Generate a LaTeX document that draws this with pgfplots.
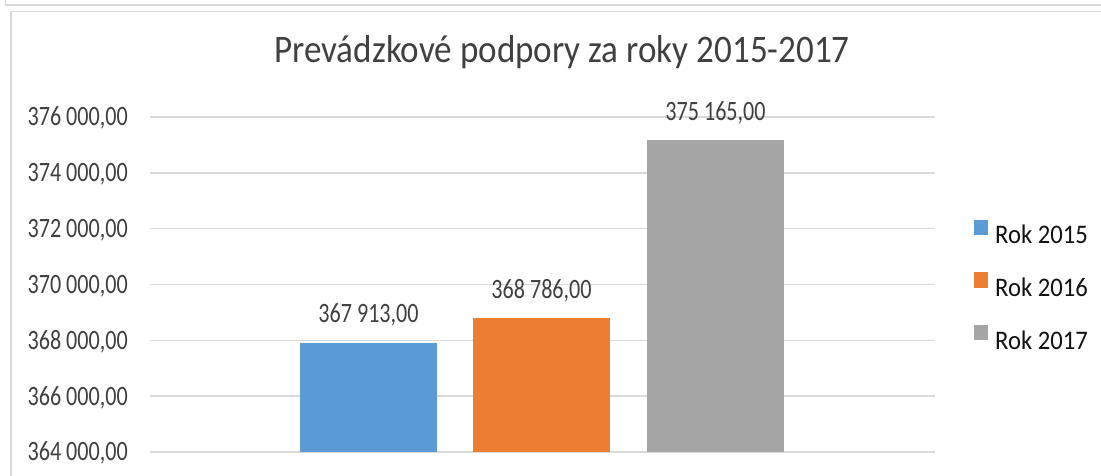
\documentclass[border=0pt]{standalone}
\usepackage{pgfplots}
\pgfplotsset{compat=1.18}
\usepackage{fontspec}
\setmainfont{Carlito}
\newfontfamily\tickfont{Carlito}[FakeStretch=0.79]
\newfontfamily\titlefont{Carlito}[FakeStretch=0.90]
\newfontfamily\legfont{Carlito}[FakeStretch=0.92]
\definecolor{cblue}{HTML}{5B9BD5}
\definecolor{corange}{HTML}{ED7D31}
\definecolor{cgray}{HTML}{A5A5A5}
\definecolor{gridc}{HTML}{D9D9D9}
\definecolor{textc}{HTML}{404040}
\definecolor{legc}{HTML}{111111}
\pgfplotsset{sqleg/.style={legend image code/.code={\fill[##1] (0bp,0bp) rectangle (14bp,15.5bp);}}}
\begin{document}
\begin{tikzpicture}
\useasboundingbox (0,0) rectangle (1101bp,-476bp);
\draw[gridc, line width=1.5bp] (5.5bp,0) -- (5.5bp,-5bp) -- (1101bp,-5bp);
\draw[gridc, line width=1.5bp] (11bp,-476bp) -- (11bp,-11.5bp) -- (1101bp,-11.5bp);
\node[anchor=base, text=textc, font=\titlefont\fontsize{39bp}{39bp}\selectfont, inner sep=0pt] at (562bp,-62bp) {Prevádzkové podpory za roky 2015-2017};
\begin{axis}[
  at={(150bp,-452bp)}, anchor=south west,
  scale only axis, width=785bp, height=335bp,
  xmin=150, xmax=935, ymin=364000, ymax=376000,
  enlargelimits=false,
  ytick={364000,366000,368000,370000,372000,374000,376000},
  xtick=\empty,
  scaled y ticks=false,
  axis line style={draw=none},
  major tick length=0pt,
  ymajorgrids, grid style={color=gridc, line width=1.5bp},
  /pgf/number format/assume math mode=true,
  yticklabel={\pgfmathprintnumber[fixed,fixed zerofill,precision=2,use comma,1000 sep={\ }]{\tick}},
  yticklabel style={font=\tickfont\fontsize{28bp}{28bp}\selectfont, text=textc, inner sep=0pt, anchor=base east, xshift=-22bp, yshift=-8.9bp},
  ybar, bar width=137, bar shift=0pt,
  nodes near coords={\pgfmathprintnumber[fixed,fixed zerofill,precision=2,use comma,1000 sep={\ }]{\pgfplotspointmeta}},
  every node near coord/.append style={anchor=base, yshift=20bp, inner sep=0pt, font=\tickfont\fontsize{28bp}{28bp}\selectfont, text=textc},
  legend style={at={(1.0497,0.498)}, anchor=west, draw=none, fill=none, inner sep=0pt,
    nodes={inner sep=0pt}, row sep=27bp, font=\legfont\fontsize{26.8bp}{26.8bp}\selectfont, text=legc,
    /tikz/every odd column/.append style={column sep=7bp}},
  legend cell align=left,
]
\addplot[fill=cblue, draw=none, sqleg] coordinates {(368.5,367913)};
\addplot[fill=corange, draw=none, sqleg] coordinates {(541.5,368786)};
\addplot[fill=cgray, draw=none, sqleg] coordinates {(715.5,375165)};
\legend{Rok 2015, Rok 2016, Rok 2017}
\end{axis}
\end{tikzpicture}
\end{document}
